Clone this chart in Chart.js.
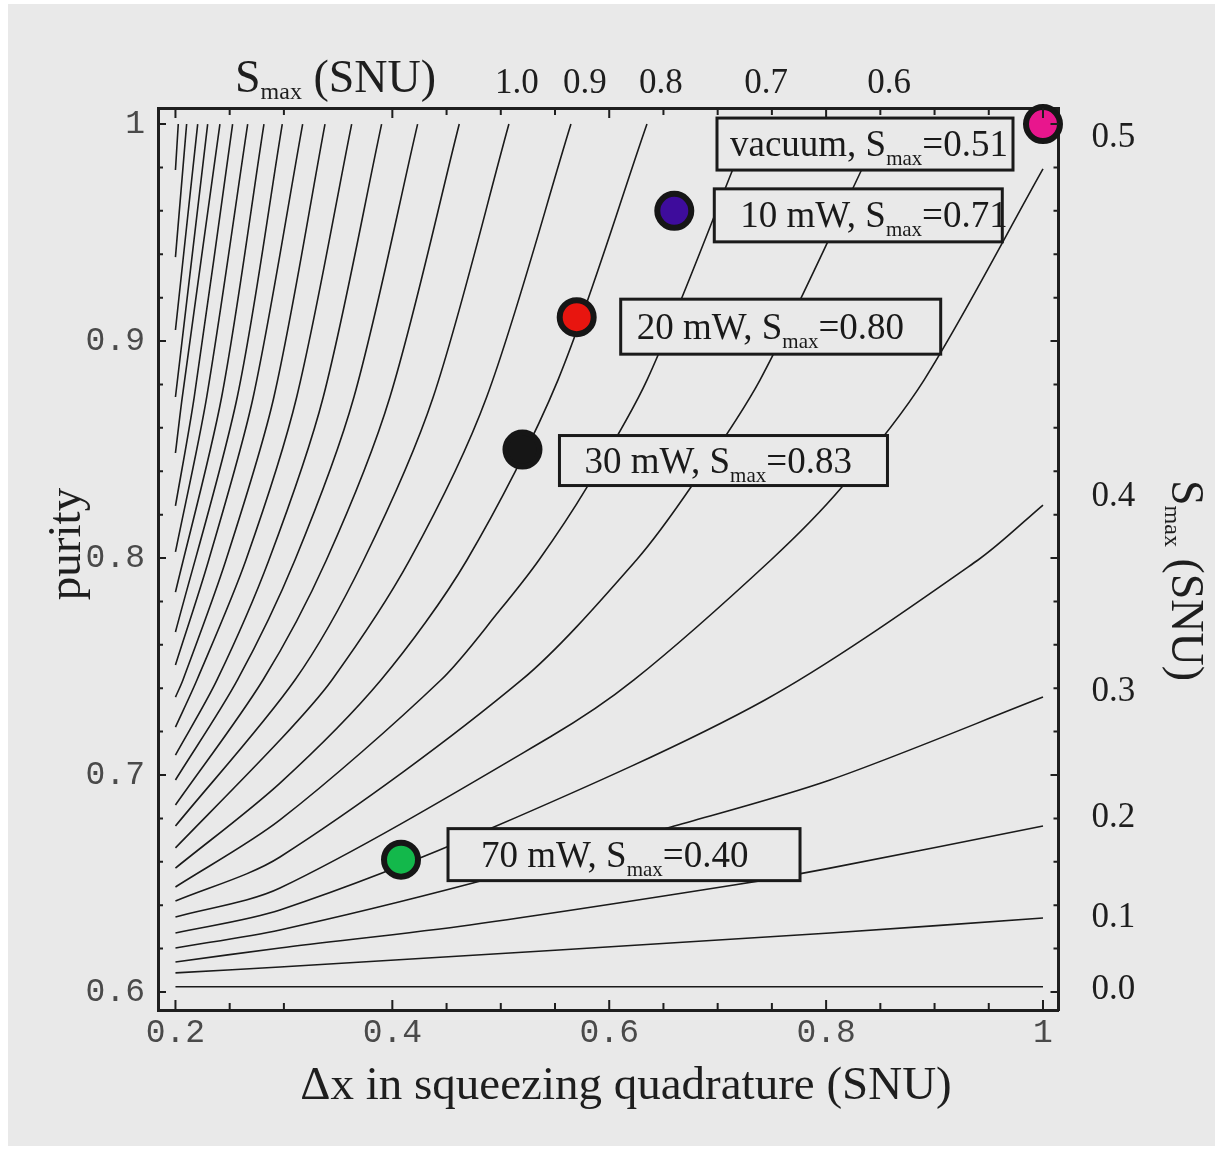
<!DOCTYPE html>
<html>
<head>
<meta charset="utf-8">
<script src="https://cdn.jsdelivr.net/npm/chart.js@4.4.1/dist/chart.umd.min.js"></script>
<style>
  html, body { margin: 0; padding: 0; background: #ffffff; }
  canvas { display: block; }
</style>
</head>
<body>
<canvas id="purity_chart" width="1223" height="1152"></canvas>
<script>
// S_max contour levels (SNU), one traced line per level: x = Δx (SNU), y = purity
var smaxLevels = [2.5, 2.4, 2.3, 2.2, 2.1, 2.0, 1.9, 1.8, 1.7, 1.6, 1.5, 1.4, 1.3,
                  1.2, 1.1, 1.0, 0.9, 0.8, 0.7, 0.6, 0.5, 0.4, 0.3, 0.2, 0.1, 0.0];
var contourX = [
  [0.2, 0.2026],
  [0.2, 0.2103],
  [0.2, 0.2205],
  [0.2, 0.2297],
  [0.2, 0.2063, 0.241],
  [0.2, 0.2173, 0.2527],
  [0.2, 0.2288, 0.2666],
  [0.2, 0.2426, 0.2816],
  [0.2, 0.257, 0.2985],
  [0.2, 0.2307, 0.2717, 0.3173],
  [0.2, 0.2069, 0.2466, 0.2908, 0.3379],
  [0.2, 0.2198, 0.265, 0.3118, 0.3625],
  [0.2, 0.2383, 0.2862, 0.3363, 0.3901],
  [0.2, 0.2572, 0.3102, 0.3646, 0.4233],
  [0.2, 0.2807, 0.3392, 0.3978, 0.4617],
  [0.2, 0.3102, 0.3736, 0.4377, 0.5075],
  [0.2, 0.2964, 0.3443, 0.416, 0.487, 0.5647],
  [0.2, 0.2964, 0.3895, 0.4688, 0.5527, 0.6348],
  [0.2, 0.2964, 0.4448, 0.4992, 0.5352, 0.5795, 0.6348, 0.7141, 0.7298],
  [0.2, 0.2964, 0.5192, 0.6251, 0.6754, 0.739, 0.8331, 0.8515],
  [0.2, 0.2964, 0.5454, 0.6228, 0.7491, 0.8146, 0.8903, 1.0],
  [0.2, 0.2964, 0.4937, 0.7436, 0.9401, 1.0],
  [0.2, 0.2964, 0.4743, 0.6569, 0.8036, 1.0],
  [0.2, 0.2964, 0.4716, 0.715, 0.8036, 1.0],
  [0.2, 0.2964, 0.8036, 1.0],
  [0.2, 1.0]
];
var contourY = [
  [0.9788, 1.0],
  [0.9387, 1.0],
  [0.9051, 1.0],
  [0.8742, 1.0],
  [0.8484, 0.8742, 1.0],
  [0.824, 0.8742, 1.0],
  [0.8028, 0.8742, 1.0],
  [0.7843, 0.8742, 1.0],
  [0.7659, 0.8742, 1.0],
  [0.7507, 0.7991, 0.8742, 1.0],
  [0.7359, 0.7438, 0.7991, 0.8742, 1.0],
  [0.7221, 0.7438, 0.7991, 0.8742, 1.0],
  [0.7092, 0.7438, 0.7991, 0.8742, 1.0],
  [0.6977, 0.7438, 0.7991, 0.8742, 1.0],
  [0.6862, 0.7438, 0.7991, 0.8742, 1.0],
  [0.6765, 0.7438, 0.7991, 0.8742, 1.0],
  [0.6664, 0.7161, 0.7438, 0.7991, 0.8742, 1.0],
  [0.6571, 0.6963, 0.7438, 0.7991, 0.882, 1.0],
  [0.6484, 0.6793, 0.7438, 0.776, 0.7991, 0.8327, 0.882, 0.9793, 1.0],
  [0.6419, 0.6622, 0.7438, 0.7991, 0.8327, 0.882, 0.9793, 1.0],
  [0.6346, 0.6479, 0.7175, 0.7438, 0.7991, 0.8327, 0.882, 0.9793],
  [0.6272, 0.6378, 0.676, 0.7346, 0.7991, 0.8244],
  [0.6203, 0.6286, 0.6502, 0.676, 0.6977, 0.7359],
  [0.6138, 0.6203, 0.6309, 0.6493, 0.6571, 0.6765],
  [0.6088, 0.6115, 0.6272, 0.6341],
  [0.6024, 0.6024]
];

// measured states
var stateNames = ['vacuum', '10 mW', '20 mW', '30 mW', '70 mW'];
var stateDx = [1.0, 0.66, 0.57, 0.52, 0.408];
var statePurity = [1.0, 0.96, 0.911, 0.85, 0.661];
var stateSmax = [0.51, 0.71, 0.80, 0.83, 0.40];
var stateColors = ['#e8168d', '#3e0c9c', '#e8150f', '#161616', '#13b84b'];

// axis ticks
var xTickValues = [0.2, 0.4, 0.6, 0.8, 1];
var xMinorTicks = [0.25, 0.3, 0.45, 0.5, 0.55, 0.65, 0.7, 0.75, 0.85, 0.9, 0.95];
var yTickValues = [0.6, 0.7, 0.8, 0.9, 1];
var topTickLabels = ['1.0', '0.9', '0.8', '0.7', '0.6'];
var topTickDx = [0.5149, 0.5776, 0.6477, 0.7446, 0.858];
var rightTickLabels = ['0.0', '0.1', '0.2', '0.3', '0.4', '0.5'];
var rightTickPurity = [0.6009, 0.6341, 0.6802, 0.7382, 0.8281, 0.9935];

var X_MIN = 0.1839, X_MAX = 1.0143, Y_MIN = 0.5917, Y_MAX = 1.0074;

var SERIF = "'Liberation Serif', 'Times New Roman', serif";
var MONO = "'Liberation Mono', 'DejaVu Sans Mono', monospace";
var BG = '#e9e9e9';

// callout boxes, placed relative to their state's marker (pixels)
var calloutBoxes = [
  {dx: -326, dy: -6, w: 296, h: 52, inset: 13},
  {dx: 40, dy: -22, w: 288, h: 53, inset: 26},
  {dx: 44, dy: -18, w: 320, h: 55, inset: 16},
  {dx: 37, dy: -14, w: 328, h: 50, inset: 25},
  {dx: 47, dy: -31, w: 352, h: 52, inset: 33}
];

function drawParts(ctx, parts, x, y) {
  parts.forEach(function(p) {
    ctx.font = p.size + 'px ' + SERIF;
    ctx.fillText(p.text, x, y + (p.dy || 0));
    x += ctx.measureText(p.text).width;
  });
}

function smaxParts(prefix, suffix, size, subSize, subDy) {
  return [
    {text: prefix + 'S', size: size},
    {text: 'max', size: subSize, dy: subDy},
    {text: suffix, size: size}
  ];
}

var pageBackground = {
  id: 'pageBackground',
  beforeDraw: function(chart) {
    var ctx = chart.ctx;
    ctx.save();
    ctx.fillStyle = '#ffffff';
    ctx.fillRect(0, 0, chart.width, chart.height);
    ctx.fillStyle = BG;
    ctx.fillRect(8, 4, chart.width - 16, chart.height - 10);
    ctx.restore();
  }
};

// tick marks pointing into the plot on all four sides
var innerTicks = {
  id: 'innerTicks',
  afterDraw: function(chart) {
    var ctx = chart.ctx, a = chart.chartArea;
    var xs = chart.scales.x, ys = chart.scales.y;
    ctx.save();
    ctx.strokeStyle = '#1e1e1e';
    ctx.lineWidth = 2;
    ctx.beginPath();
    function xTick(v, len) {
      var px = xs.getPixelForValue(v);
      ctx.moveTo(px, a.bottom); ctx.lineTo(px, a.bottom - len);
      ctx.moveTo(px, a.top); ctx.lineTo(px, a.top + len);
    }
    function yTick(v, len) {
      var py = ys.getPixelForValue(v);
      ctx.moveTo(a.left, py); ctx.lineTo(a.left + len, py);
      ctx.moveTo(a.right, py); ctx.lineTo(a.right - len, py);
    }
    xTickValues.forEach(function(v) { xTick(v, 10); });
    xMinorTicks.forEach(function(v) { xTick(v, 7); });
    for (var i = 0; i <= 20; i++) {
      var v = 0.6 + i * 0.02;
      yTick(v, i % 5 === 0 ? 8 : 5);
    }
    ctx.stroke();
    ctx.restore();
  }
};

var stateCallouts = {
  id: 'stateCallouts',
  afterDatasetsDraw: function(chart) {
    var ctx = chart.ctx, xs = chart.scales.x, ys = chart.scales.y;
    ctx.save();
    stateNames.forEach(function(name, i) {
      var b = calloutBoxes[i];
      var left = xs.getPixelForValue(stateDx[i]) + b.dx;
      var top = ys.getPixelForValue(statePurity[i]) + b.dy;
      ctx.fillStyle = BG;
      ctx.fillRect(left, top, b.w, b.h);
      ctx.lineWidth = 3;
      ctx.strokeStyle = '#1a1a1a';
      ctx.strokeRect(left, top, b.w, b.h);
      ctx.fillStyle = '#1a1a1a';
      ctx.textBaseline = 'alphabetic';
      ctx.textAlign = 'left';
      drawParts(ctx, smaxParts(name + ', ', '=' + stateSmax[i].toFixed(2), 37, 21, 9),
                left + b.inset, top + b.h / 2 + 12);
    });
    ctx.restore();
  }
};

var axisTitles = {
  id: 'axisTitles',
  afterDraw: function(chart) {
    var ctx = chart.ctx;
    ctx.save();
    ctx.fillStyle = '#1e1e1e';
    ctx.textBaseline = 'alphabetic';
    ctx.textAlign = 'left';
    // top scale title
    drawParts(ctx, smaxParts('', ' (SNU)', 46, 24, 7), 235, 92);
    // right scale title, reading downwards
    ctx.save();
    ctx.translate(1172, 480);
    ctx.rotate(Math.PI / 2);
    drawParts(ctx, smaxParts('', ' (SNU)', 46, 24, 7), 0, 0);
    ctx.restore();
    // bottom title
    ctx.textAlign = 'center';
    ctx.font = '47px ' + SERIF;
    ctx.fillText('\u0394x in squeezing quadrature (SNU)', 626, 1099);
    // left title
    ctx.save();
    ctx.translate(80, 544);
    ctx.rotate(-Math.PI / 2);
    ctx.fillText('purity', 0, 0);
    ctx.restore();
    ctx.restore();
  }
};

var datasets = [{
  type: 'scatter',
  label: 'states',
  data: stateDx.map(function(x, i) { return {x: x, y: statePurity[i]}; }),
  pointRadius: 17,
  pointBorderWidth: 6,
  pointBorderColor: '#161616',
  pointBackgroundColor: stateColors,
  clip: false,
  order: 0
}];

smaxLevels.forEach(function(s, k) {
  datasets.push({
    type: 'line',
    label: 'S_max = ' + s.toFixed(1),
    data: contourX[k].map(function(x, i) { return {x: x, y: contourY[k][i]}; }),
    borderColor: '#1b1b1b',
    borderWidth: 1.6,
    pointRadius: 0,
    fill: false,
    tension: 0.3,
    order: 1
  });
});

function fixedTicks(values) {
  return function(scale) {
    scale.ticks = values.map(function(v) { return {value: v}; });
  };
}

var noGrid = {display: false, drawTicks: false};
var frame = {display: true, color: '#1e1e1e', width: 3};

new Chart(document.getElementById('purity_chart'), {
  data: {datasets: datasets},
  options: {
    responsive: false,
    animation: false,
    events: [],
    layout: {padding: 0},
    plugins: {legend: {display: false}, tooltip: {enabled: false}},
    scales: {
      x: {
        type: 'linear', position: 'bottom', min: X_MIN, max: X_MAX,
        grid: noGrid, border: frame,
        afterBuildTicks: fixedTicks(xTickValues),
        afterFit: function(s) { s.height = 142; },
        ticks: {
          autoSkip: false, maxRotation: 0, padding: 3, color: '#4a4a4a',
          font: {family: MONO, size: 33},
          callback: function(v) { return v === 1 ? '1' : v.toFixed(1); }
        }
      },
      x2: {
        type: 'linear', position: 'top', min: X_MIN, max: X_MAX,
        grid: noGrid, border: frame,
        afterBuildTicks: fixedTicks(topTickDx),
        afterFit: function(s) { s.height = 108; },
        ticks: {
          autoSkip: false, maxRotation: 0, padding: 3, color: '#1e1e1e',
          font: {family: SERIF, size: 35},
          callback: function(v, i) { return topTickLabels[i]; }
        }
      },
      y: {
        type: 'linear', position: 'left', min: Y_MIN, max: Y_MAX,
        grid: noGrid, border: frame,
        afterBuildTicks: fixedTicks(yTickValues),
        afterFit: function(s) { s.width = 158; },
        ticks: {
          autoSkip: false, padding: 13, color: '#4a4a4a',
          font: {family: MONO, size: 33},
          callback: function(v) { return v === 1 ? '1' : v.toFixed(1); }
        }
      },
      y2: {
        type: 'linear', position: 'right', min: Y_MIN, max: Y_MAX,
        grid: noGrid, border: frame,
        afterBuildTicks: fixedTicks(rightTickPurity),
        afterFit: function(s) { s.width = 164.5; },
        ticks: {
          autoSkip: false, padding: 33, color: '#1e1e1e',
          font: {family: SERIF, size: 35},
          callback: function(v, i) { return rightTickLabels[i]; }
        }
      }
    }
  },
  plugins: [pageBackground, innerTicks, stateCallouts, axisTitles]
});
</script>
</body>
</html>
